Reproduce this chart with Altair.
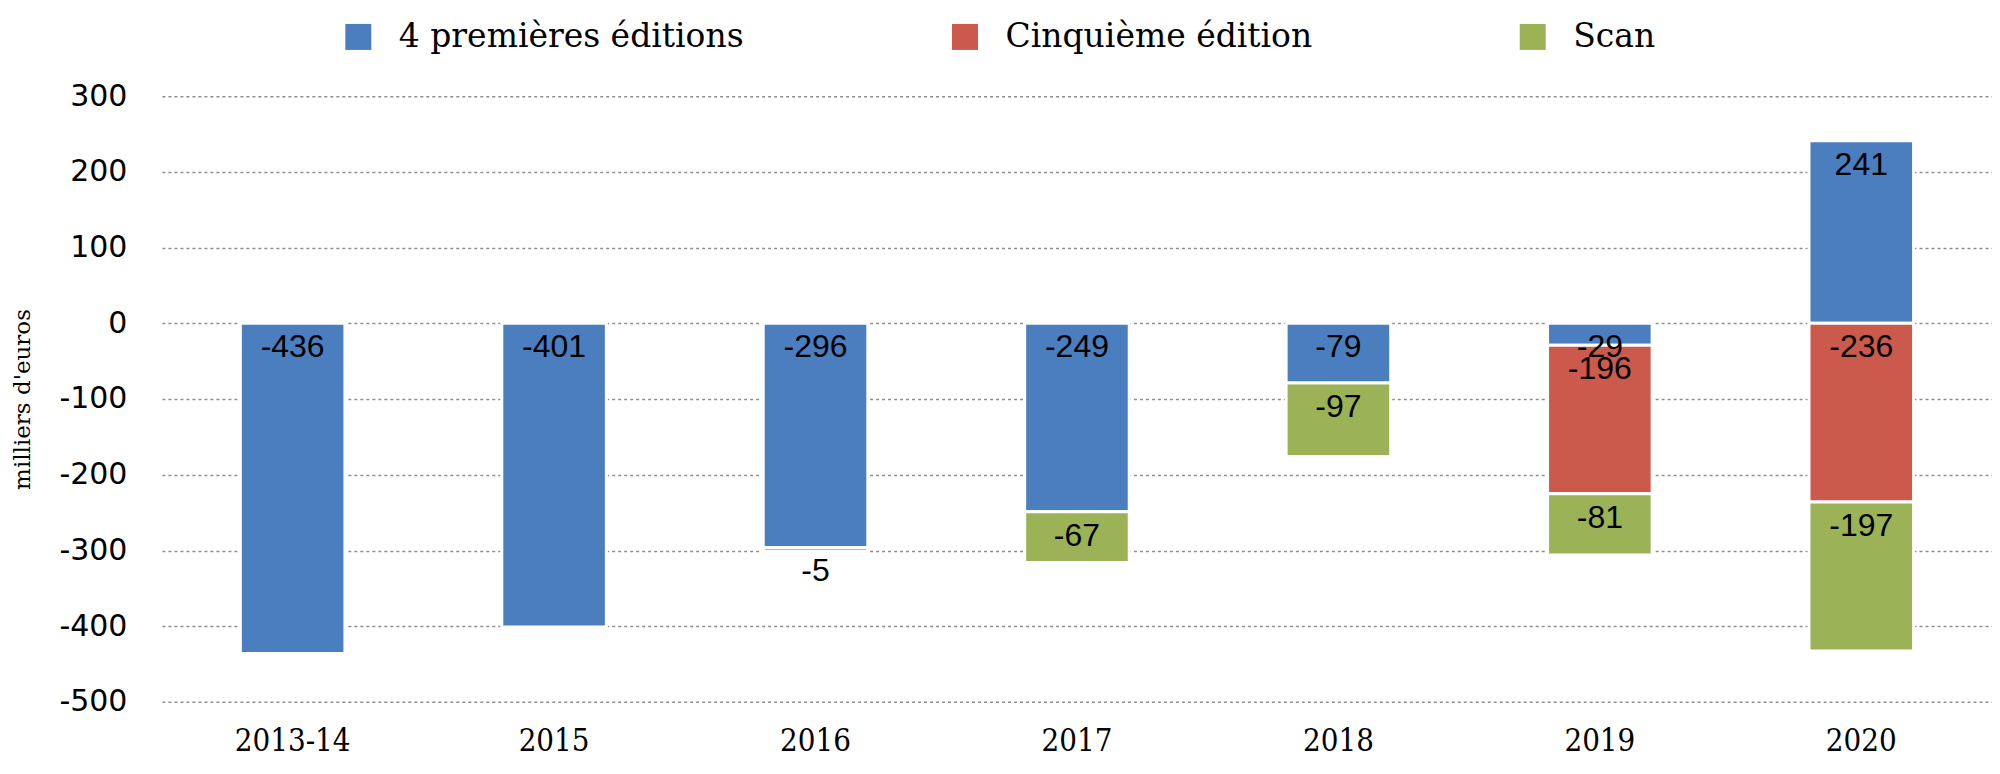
import altair as alt
import pandas as pd

years = ["2013-14", "2015", "2016", "2017", "2018", "2019", "2020"]
series = ["4 premières éditions", "Cinquième édition", "Scan"]
premieres = [-436, -401, -296, -249, -79, -29, 241]
cinquieme = [None, None, None, None, None, -196, -236]
scan = [None, None, -5, -67, -97, -81, -197]
colors = ["#4A7EBF", "#CB5A4C", "#9BB356"]
y_ticks = [-500, -400, -300, -200, -100, 0, 100, 200, 300]

rows = []
for i, yr in enumerate(years):
    for k, (s, vals) in enumerate(zip(series, [premieres, cinquieme, scan])):
        v = vals[i]
        if v is not None:
            rows.append({"year": yr, "series": s, "order": k, "value": v})
df = pd.DataFrame(rows)

x_enc = alt.X(
    "year:N",
    sort=years,
    scale=alt.Scale(paddingInner=0.6, paddingOuter=0.3),
    axis=alt.Axis(
        title=None, labelAngle=0, ticks=False, tickSize=0, domain=False,
        labelFont="DejaVu Serif Condensed", labelFontSize=31, labelColor="black",
        labelPadding=25, labelBaseline="top",
    ),
)

y_scale = alt.Scale(domain=[-500, 300], nice=False, zero=False)
y_axis = alt.Axis(
    values=y_ticks, title="milliers d'euros",
    grid=True, gridDash=[3, 3], gridColor="#8f8f8f", gridWidth=1.5,
    domain=False, ticks=False, tickSize=0, labelPadding=35,
    labelExpr="'' + datum.value", labelFont="DejaVu Sans", labelFontSize=30,
    labelColor="black",
    titleFont="DejaVu Serif", titleFontSize=23, titleFontWeight="normal",
    titleColor="black", titleX=-139, titleY=303, titleAngle=270,
    titleAlign="center", titleBaseline="middle",
)

base = alt.Chart(df).transform_stack(
    stack="value", groupby=["year"],
    sort=[alt.SortField("order", "ascending")], as_=["v0", "v1"],
).transform_calculate(
    top="max(datum.v0, datum.v1)", label="'' + datum.value"
)

bars = base.mark_bar(stroke="white", strokeWidth=3).encode(
    x=x_enc,
    y=alt.Y("v0:Q", scale=y_scale, axis=y_axis),
    y2="v1:Q",
    color=alt.Color(
        "series:N",
        scale=alt.Scale(domain=series, range=colors),
        legend=alt.Legend(
            title=None, orient="none", direction="horizontal",
            legendX=180, legendY=-76, padding=0,
            symbolType="square", symbolSize=676, symbolStrokeWidth=0,
            symbolOpacity=1,
            labelFont="DejaVu Serif", labelFontSize=33, labelColor="black",
            labelOffset=24, labelLimit=600, columnPadding=204,
        ),
    ),
    order=alt.Order("order:Q"),
)

labels = base.mark_text(
    baseline="middle", align="center", dy=24,
    font="Liberation Sans", fontSize=32, color="black",
).encode(
    x=alt.X("year:N", sort=years),
    y=alt.Y("top:Q", scale=y_scale, axis=y_axis),
    text="label:N",
)

chart = alt.layer(bars, labels).properties(
    width=1831, height=606,
    padding={"left": 154, "top": 88, "right": 0, "bottom": 72},
    autosize="none",
).configure_view(stroke=None)

chart.save("out.html", embed_options={"renderer": "svg", "actions": False})
